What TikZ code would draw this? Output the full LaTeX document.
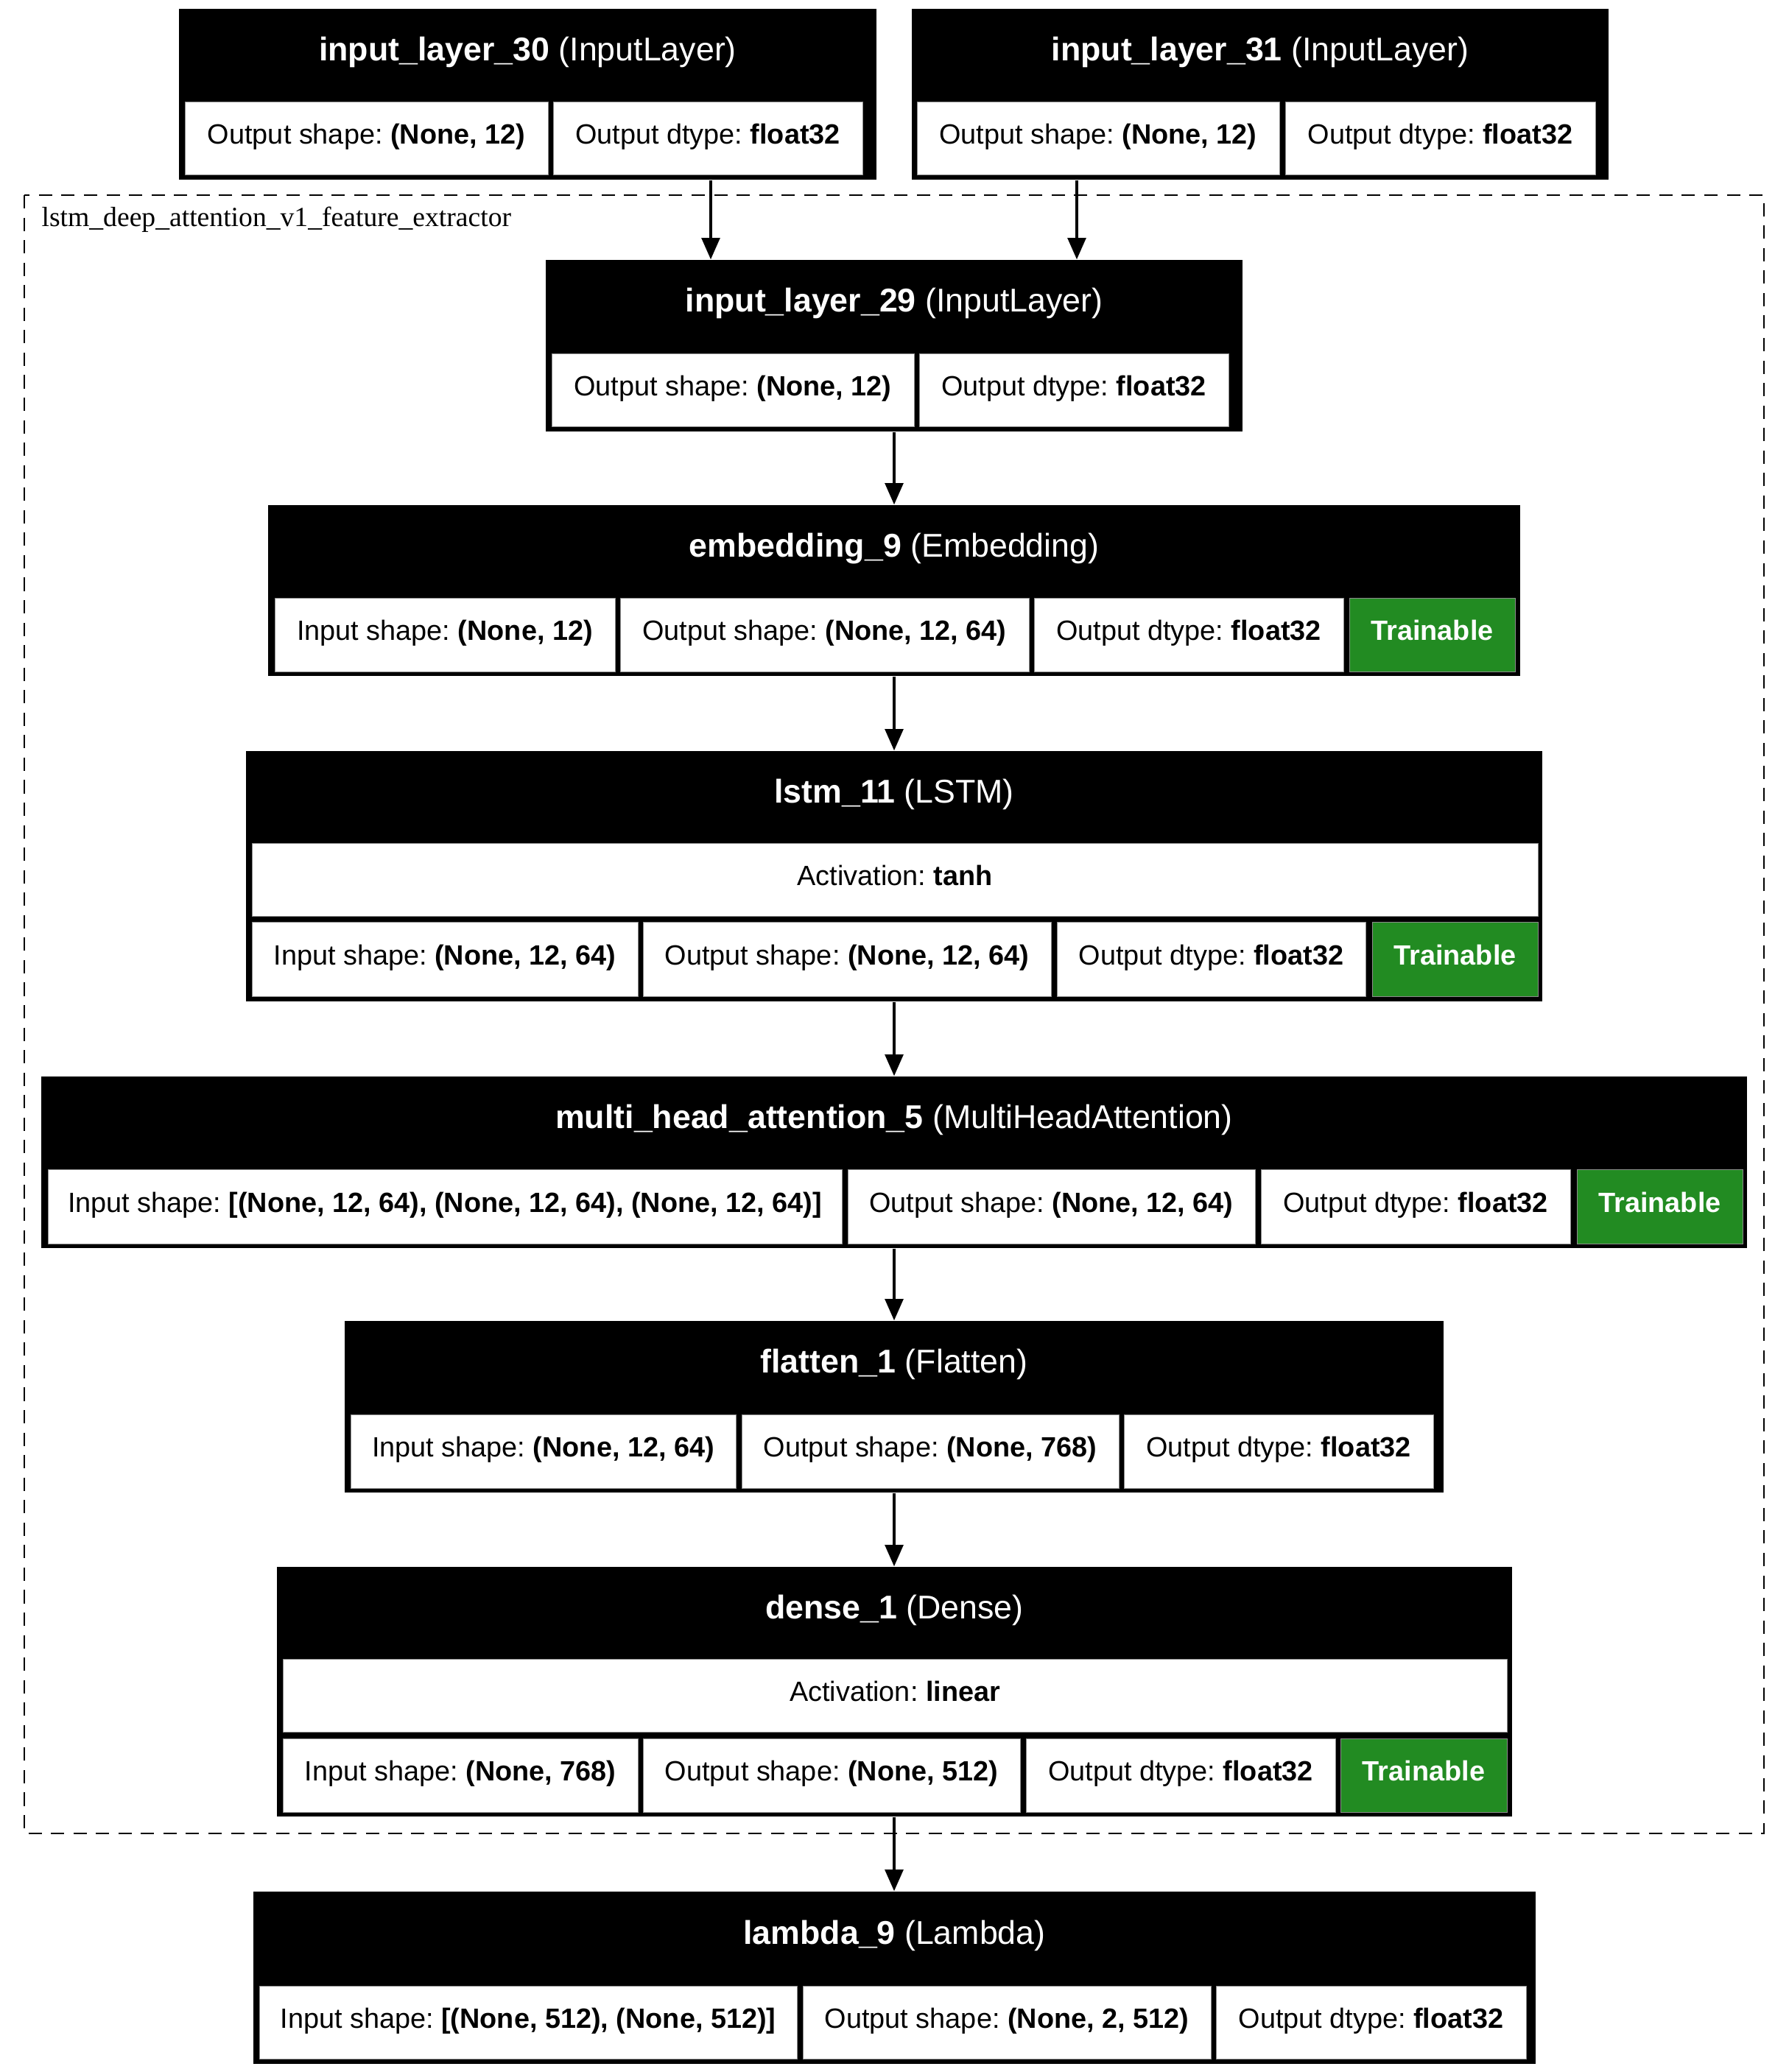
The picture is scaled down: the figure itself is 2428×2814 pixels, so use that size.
\documentclass[tikz,border=0pt]{standalone}
\usepackage{fontspec}
\setmainfont{Liberation Sans}
\newfontfamily\clusterfont{Liberation Serif}
\usetikzlibrary{arrows.meta}
\definecolor{trainG}{RGB}{34,139,34}
\newcommand{\hdrfont}{\fontsize{16.1}{19}\selectfont}
\newcommand{\cfont}{\fontsize{13.62}{16}\selectfont}
\tikzset{
  outerbox/.style={fill=black, draw=none, inner sep=0pt},
  hdrtext/.style={text=white, font=\hdrfont, inner sep=0pt, text height=8.2pt, text depth=2.44pt},
  cellw/.style={fill=white, draw=black!45, line width=0.3pt, inner sep=0pt, font=\cfont, text height=7.6pt, text depth=2.2pt},
  cellg/.style={cellw, fill=trainG, text=white},
  arr/.style={line width=1.7pt, -{Triangle[length=10.6pt,width=8.8pt]}},
  clusterbox/.style={draw=black, dashed, dash pattern=on 6.5pt off 4.5pt, line width=0.9pt}
}
% \layerbox{name}{L}{T}{R}{B}{header center y}{header text}
\newcommand{\layerbox}[7]{%
  \node[outerbox, minimum width={(#4-#2)*0.36pt}, minimum height={(#5-#3)*0.36pt}] (#1) at ({(#2+#4)/2},{(#3+#5)/2}) {};
  \node[hdrtext] (#1h) at ({(#2+#4)/2},#6) {#7};}
% \lcell{name}{style}{x1}{x2}{y1}{y2}{text}
\newcommand{\lcell}[7]{%
  \node[#2, minimum width={(#4-#3)*0.36pt}, minimum height={(#6-#5)*0.36pt}] (#1) at ({(#3+#4)/2},{(#5+#6)/2}) {#7};}
\begin{document}
\frenchspacing
\begin{tikzpicture}[x=0.36pt, y=-0.36pt]
\useasboundingbox (0,0) rectangle (2428,2814);
\fill[white] (0,0) rectangle (2428,2814);

% cluster
\draw[clusterbox] (33,265) rectangle (2395,2490);
\node[anchor=base west, inner sep=0pt, font=\clusterfont\fontsize{13.55}{16}\selectfont] (clabel) at (56,307) {lstm\_deep\_attention\_v1\_feature\_extractor};

% input_layer_30
\layerbox{n30}{243}{12}{1190}{244}{74}{\textbf{input\_layer\_30} (InputLayer)}
\lcell{n30a}{cellw}{251}{744}{138}{237}{Output shape: \textbf{(None, 12)}}
\lcell{n30b}{cellw}{751}{1171}{138}{237}{Output dtype: \textbf{float32}}

% input_layer_31
\layerbox{n31}{1238}{12}{2184}{244}{74}{\textbf{input\_layer\_31} (InputLayer)}
\lcell{n31a}{cellw}{1245}{1737}{138}{237}{Output shape: \textbf{(None, 12)}}
\lcell{n31b}{cellw}{1745}{2166}{138}{237}{Output dtype: \textbf{float32}}

% input_layer_29
\layerbox{n29}{741}{353}{1687}{586}{415.5}{\textbf{input\_layer\_29} (InputLayer)}
\lcell{n29a}{cellw}{749}{1241}{480}{579}{Output shape: \textbf{(None, 12)}}
\lcell{n29b}{cellw}{1248}{1668}{480}{579}{Output dtype: \textbf{float32}}

% embedding_9
\layerbox{emb}{364}{686}{2064}{918}{748.5}{\textbf{embedding\_9} (Embedding)}
\lcell{emba}{cellw}{373}{835}{812}{912}{Input shape: \textbf{(None, 12)}}
\lcell{embb}{cellw}{842}{1397}{812}{912}{Output shape: \textbf{(None, 12, 64)}}
\lcell{embc}{cellw}{1404}{1824}{812}{912}{Output dtype: \textbf{float32}}
\lcell{embd}{cellg}{1832}{2057}{812}{912}{\textbf{Trainable}}

% lstm_11
\layerbox{lstm}{334}{1020}{2094}{1360}{1082}{\textbf{lstm\_11} (LSTM)}
\lcell{lstmact}{cellw}{342}{2088}{1145}{1244}{Activation: \textbf{tanh}}
\lcell{lstma}{cellw}{342}{866}{1252}{1353}{Input shape: \textbf{(None, 12, 64)}}
\lcell{lstmb}{cellw}{873}{1427}{1252}{1353}{Output shape: \textbf{(None, 12, 64)}}
\lcell{lstmc}{cellw}{1435}{1854}{1252}{1353}{Output dtype: \textbf{float32}}
\lcell{lstmd}{cellg}{1863}{2088}{1252}{1353}{\textbf{Trainable}}

% multi_head_attention_5
\layerbox{mha}{56}{1462}{2372}{1695}{1524}{\textbf{multi\_head\_attention\_5} (MultiHeadAttention)}
\lcell{mhaa}{cellw}{65}{1143}{1588}{1689}{Input shape: \textbf{[(None, 12, 64), (None, 12, 64), (None, 12, 64)]}}
\lcell{mhab}{cellw}{1151}{1704}{1588}{1689}{Output shape: \textbf{(None, 12, 64)}}
\lcell{mhac}{cellw}{1712}{2132}{1588}{1689}{Output dtype: \textbf{float32}}
\lcell{mhad}{cellg}{2141}{2366}{1588}{1689}{\textbf{Trainable}}

% flatten_1
\layerbox{flat}{468}{1794}{1960}{2027}{1856}{\textbf{flatten\_1} (Flatten)}
\lcell{flata}{cellw}{476}{999}{1921}{2021}{Input shape: \textbf{(None, 12, 64)}}
\lcell{flatb}{cellw}{1007}{1519}{1921}{2021}{Output shape: \textbf{(None, 768)}}
\lcell{flatc}{cellw}{1526}{1946}{1921}{2021}{Output dtype: \textbf{float32}}

% dense_1
\layerbox{dense}{376}{2128}{2053}{2467}{2190}{\textbf{dense\_1} (Dense)}
\lcell{denseact}{cellw}{384}{2046}{2253}{2352}{Activation: \textbf{linear}}
\lcell{densea}{cellw}{384}{866}{2361}{2461}{Input shape: \textbf{(None, 768)}}
\lcell{denseb}{cellw}{873}{1385}{2361}{2461}{Output shape: \textbf{(None, 512)}}
\lcell{densec}{cellw}{1393}{1813}{2361}{2461}{Output dtype: \textbf{float32}}
\lcell{densed}{cellg}{1820}{2046}{2361}{2461}{\textbf{Trainable}}

% lambda_9
\layerbox{lam}{344}{2569}{2085}{2803}{2632}{\textbf{lambda\_9} (Lambda)}
\lcell{lama}{cellw}{352}{1082}{2697}{2796}{Input shape: \textbf{[(None, 512), (None, 512)]}}
\lcell{lamb}{cellw}{1090}{1644}{2697}{2796}{Output shape: \textbf{(None, 2, 512)}}
\lcell{lamc}{cellw}{1651}{2072}{2697}{2796}{Output dtype: \textbf{float32}}

% connectors
\coordinate (x30) at (965,0);
\coordinate (x31) at (1462,0);
\coordinate (xc) at (1214,0);
\draw[arr] (n30.south -| x30) -- (n29.north -| x30);
\draw[arr] (n31.south -| x31) -- (n29.north -| x31);
\draw[arr] (n29.south -| xc) -- (emb.north -| xc);
\draw[arr] (emb.south -| xc) -- (lstm.north -| xc);
\draw[arr] (lstm.south -| xc) -- (mha.north -| xc);
\draw[arr] (mha.south -| xc) -- (flat.north -| xc);
\draw[arr] (flat.south -| xc) -- (dense.north -| xc);
\draw[arr] (dense.south -| xc) -- (lam.north -| xc);
\end{tikzpicture}
\end{document}
